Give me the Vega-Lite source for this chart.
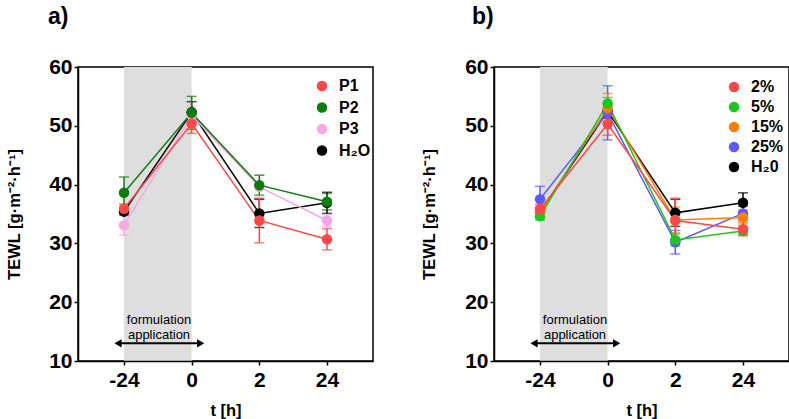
{
  "$schema": "https://vega.github.io/schema/vega-lite/v6.json",
  "background": "white",
  "padding": {"left": 5, "top": 5, "right": 0, "bottom": 0},
  "bounds": "flush",
  "spacing": 121,
  "config": {
    "font": "Liberation Sans",
    "view": {"stroke": "black", "strokeWidth": 1.5},
    "axis": {
      "domainColor": "black", "domainWidth": 1.5,
      "tickColor": "black", "tickWidth": 1.5, "tickSize": 4,
      "labelColor": "black", "labelFont": "Liberation Sans", "labelFontWeight": "bold", "labelFontSize": 21,
      "titleColor": "black", "titleFont": "Liberation Sans", "titleFontWeight": "bold", "titleFontSize": 16.5,
      "grid": false
    },
    "legend": {
      "labelFont": "Liberation Sans", "labelFontWeight": "bold", "labelFontSize": 16, "labelColor": "black",
      "symbolType": "circle", "symbolSize": 110, "symbolStrokeWidth": 0, "symbolOpacity": 1,
      "labelOffset": 9, "title": null
    }
  },
  "datasets": {
    "a": [
      {"series": "H₂O", "t": "-24", "m": 35.4, "e": 0.6},
      {"series": "H₂O", "t": "0", "m": 52.3, "e": 1.8},
      {"series": "H₂O", "t": "2", "m": 35.1, "e": 2.4},
      {"series": "H₂O", "t": "24", "m": 36.9, "e": 1.8},
      {"series": "P3", "t": "-24", "m": 33.1, "e": 1.7},
      {"series": "P3", "t": "0", "m": 51.8, "e": 1.5},
      {"series": "P3", "t": "2", "m": 39.6, "e": 2.0},
      {"series": "P3", "t": "24", "m": 33.9, "e": 1.0},
      {"series": "P2", "t": "-24", "m": 38.6, "e": 2.7},
      {"series": "P2", "t": "0", "m": 52.2, "e": 2.8},
      {"series": "P2", "t": "2", "m": 39.9, "e": 1.7},
      {"series": "P2", "t": "24", "m": 37.1, "e": 1.4},
      {"series": "P1", "t": "-24", "m": 35.9, "e": 0.8},
      {"series": "P1", "t": "0", "m": 50.4, "e": 1.7},
      {"series": "P1", "t": "2", "m": 33.9, "e": 3.8},
      {"series": "P1", "t": "24", "m": 30.7, "e": 1.8}
    ],
    "b": [
      {"series": "H₂0", "t": "-24", "m": 35.3, "e": 0.6},
      {"series": "H₂0", "t": "0", "m": 52.5, "e": 1.2},
      {"series": "H₂0", "t": "2", "m": 35.2, "e": 2.3},
      {"series": "H₂0", "t": "24", "m": 36.9, "e": 1.7},
      {"series": "25%", "t": "-24", "m": 37.5, "e": 2.2},
      {"series": "25%", "t": "0", "m": 52.2, "e": 4.6},
      {"series": "25%", "t": "2", "m": 30.2, "e": 2.0},
      {"series": "25%", "t": "24", "m": 35.1, "e": 1.2},
      {"series": "15%", "t": "-24", "m": 35.2, "e": 0.9},
      {"series": "15%", "t": "0", "m": 53.0, "e": 2.5},
      {"series": "15%", "t": "2", "m": 34.0, "e": 2.2},
      {"series": "15%", "t": "24", "m": 34.4, "e": 1.3},
      {"series": "5%", "t": "-24", "m": 34.6, "e": 0.6},
      {"series": "5%", "t": "0", "m": 53.8, "e": 1.0},
      {"series": "5%", "t": "2", "m": 30.6, "e": 1.0},
      {"series": "5%", "t": "24", "m": 32.1, "e": 0.6},
      {"series": "2%", "t": "-24", "m": 35.8, "e": 0.8},
      {"series": "2%", "t": "0", "m": 50.3, "e": 1.9},
      {"series": "2%", "t": "2", "m": 33.9, "e": 3.8},
      {"series": "2%", "t": "24", "m": 32.4, "e": 1.1}
    ],
    "shade": [{"from": "-24", "to": "0", "top": 60, "bottom": 10}],
    "arrow": [{"from": "-24", "to": "0", "y": 13}],
    "note": [
      {"t": "-24", "y": 16.9, "txt": "formulation"},
      {"t": "-24", "y": 14.5, "txt": "application"}
    ]
  },
  "resolve": {"scale": {"color": "independent", "x": "independent", "y": "independent"}, "legend": {"color": "independent"}},
  "hconcat": [
    {
      "width": 295, "height": 294,
      "title": {"text": "a)", "anchor": "start", "frame": "group", "dx": -30, "offset": 9, "baseline": "alphabetic", "fontSize": 23, "fontWeight": "bold", "font": "Liberation Sans", "color": "black"},
      "encoding": {
        "x": {"field": "t", "type": "ordinal", "sort": ["-24", "0", "2", "24"],
              "scale": {"type": "point", "padding": 0.68, "domain": ["-24", "0", "2", "24"]},
              "axis": {"title": "t [h]", "labelAngle": 0, "labelPadding": 4, "titlePadding": 12}},
        "y": {"type": "quantitative",
              "scale": {"domain": [10, 60], "nice": false, "zero": false},
              "axis": {"title": "TEWL [g·m⁻²·h⁻¹]", "values": [10, 20, 30, 40, 50, 60], "labelPadding": 2, "titlePadding": 26}}
      },
      "layer": [
        {
          "data": {"name": "shade"},
          "mark": {"type": "rect", "color": "#dedede", "clip": false},
          "encoding": {
            "x": {"field": "from"}, "x2": {"field": "to"},
            "y": {"field": "top"}, "y2": {"field": "bottom"}
          }
        },
        {
          "data": {"name": "arrow"},
          "mark": {"type": "rule", "color": "black", "strokeWidth": 2, "xOffset": -5, "x2Offset": 8},
          "encoding": {"x": {"field": "from"}, "x2": {"field": "to"}, "y": {"field": "y"}}
        },
        {
          "data": {"name": "arrow"},
          "mark": {"type": "point", "shape": "triangle-left", "filled": true, "color": "black", "size": 70, "opacity": 1, "xOffset": -6},
          "encoding": {"x": {"field": "from"}, "y": {"field": "y"}}
        },
        {
          "data": {"name": "arrow"},
          "mark": {"type": "point", "shape": "triangle-right", "filled": true, "color": "black", "size": 70, "opacity": 1, "xOffset": 9},
          "encoding": {"x": {"field": "to"}, "y": {"field": "y"}}
        },
        {
          "data": {"name": "note"},
          "mark": {"type": "text", "fontSize": 13, "color": "black", "xOffset": 35, "font": "Liberation Sans"},
          "encoding": {"x": {"field": "t"}, "y": {"field": "y"}, "text": {"field": "txt"}}
        },
        {
          "data": {"name": "a"},
          "mark": {"type": "errorbar", "ticks": {"size": 10, "thickness": 1.5}, "rule": {"strokeWidth": 1.5}},
          "encoding": {
            "y": {"field": "m", "type": "quantitative", "title": "TEWL [g·m⁻²·h⁻¹]"},
            "yError": {"field": "e"},
            "color": {"field": "series", "type": "nominal",
                      "scale": {"domain": ["P1", "P2", "P3", "H₂O"], "range": ["#ff4747", "#0e7d0e", "#f5a8e6", "#000000"]},
                      "legend": {"orient": "none", "legendX": 236, "legendY": 11, "rowPadding": 5.5}}
          }
        },
        {
          "data": {"name": "a"},
          "mark": {"type": "line", "strokeWidth": 1.5},
          "encoding": {
            "y": {"field": "m", "type": "quantitative"},
            "color": {"field": "series", "type": "nominal",
                      "scale": {"domain": ["P1", "P2", "P3", "H₂O"], "range": ["#ff4747", "#0e7d0e", "#f5a8e6", "#000000"]},
                      "legend": {"orient": "none", "legendX": 236, "legendY": 11, "rowPadding": 5.5}}
          }
        },
        {
          "data": {"name": "a"},
          "mark": {"type": "circle", "size": 110, "opacity": 1},
          "encoding": {
            "y": {"field": "m", "type": "quantitative"},
            "color": {"field": "series", "type": "nominal",
                      "scale": {"domain": ["P1", "P2", "P3", "H₂O"], "range": ["#ff4747", "#0e7d0e", "#f5a8e6", "#000000"]},
                      "legend": {"orient": "none", "legendX": 236, "legendY": 11, "rowPadding": 5.5}}
          }
        }
      ]
    },
    {
      "width": 295, "height": 294,
      "title": {"text": "b)", "anchor": "start", "frame": "group", "dx": -22, "offset": 9, "baseline": "alphabetic", "fontSize": 23, "fontWeight": "bold", "font": "Liberation Sans", "color": "black"},
      "encoding": {
        "x": {"field": "t", "type": "ordinal", "sort": ["-24", "0", "2", "24"],
              "scale": {"type": "point", "padding": 0.68, "domain": ["-24", "0", "2", "24"]},
              "axis": {"title": "t [h]", "labelAngle": 0, "labelPadding": 4, "titlePadding": 12}},
        "y": {"type": "quantitative",
              "scale": {"domain": [10, 60], "nice": false, "zero": false},
              "axis": {"title": "TEWL [g·m⁻²·h⁻¹]", "values": [10, 20, 30, 40, 50, 60], "labelPadding": 2, "titlePadding": 27}}
      },
      "layer": [
        {
          "data": {"name": "shade"},
          "mark": {"type": "rect", "color": "#dedede", "clip": false},
          "encoding": {
            "x": {"field": "from"}, "x2": {"field": "to"},
            "y": {"field": "top"}, "y2": {"field": "bottom"}
          }
        },
        {
          "data": {"name": "arrow"},
          "mark": {"type": "rule", "color": "black", "strokeWidth": 2, "xOffset": -5, "x2Offset": 8},
          "encoding": {"x": {"field": "from"}, "x2": {"field": "to"}, "y": {"field": "y"}}
        },
        {
          "data": {"name": "arrow"},
          "mark": {"type": "point", "shape": "triangle-left", "filled": true, "color": "black", "size": 70, "opacity": 1, "xOffset": -6},
          "encoding": {"x": {"field": "from"}, "y": {"field": "y"}}
        },
        {
          "data": {"name": "arrow"},
          "mark": {"type": "point", "shape": "triangle-right", "filled": true, "color": "black", "size": 70, "opacity": 1, "xOffset": 9},
          "encoding": {"x": {"field": "to"}, "y": {"field": "y"}}
        },
        {
          "data": {"name": "note"},
          "mark": {"type": "text", "fontSize": 13, "color": "black", "xOffset": 35, "font": "Liberation Sans"},
          "encoding": {"x": {"field": "t"}, "y": {"field": "y"}, "text": {"field": "txt"}}
        },
        {
          "data": {"name": "b"},
          "mark": {"type": "errorbar", "ticks": {"size": 10, "thickness": 1.5}, "rule": {"strokeWidth": 1.5}},
          "encoding": {
            "y": {"field": "m", "type": "quantitative", "title": "TEWL [g·m⁻²·h⁻¹]"},
            "yError": {"field": "e"},
            "color": {"field": "series", "type": "nominal",
                      "scale": {"domain": ["2%", "5%", "15%", "25%", "H₂0"], "range": ["#ff4747", "#1fc41f", "#ff8000", "#5a5aff", "#000000"]},
                      "legend": {"orient": "none", "legendX": 232, "legendY": 12, "rowPadding": 4}}
          }
        },
        {
          "data": {"name": "b"},
          "mark": {"type": "line", "strokeWidth": 1.5},
          "encoding": {
            "y": {"field": "m", "type": "quantitative"},
            "color": {"field": "series", "type": "nominal",
                      "scale": {"domain": ["2%", "5%", "15%", "25%", "H₂0"], "range": ["#ff4747", "#1fc41f", "#ff8000", "#5a5aff", "#000000"]},
                      "legend": {"orient": "none", "legendX": 232, "legendY": 12, "rowPadding": 4}}
          }
        },
        {
          "data": {"name": "b"},
          "mark": {"type": "circle", "size": 110, "opacity": 1},
          "encoding": {
            "y": {"field": "m", "type": "quantitative"},
            "color": {"field": "series", "type": "nominal",
                      "scale": {"domain": ["2%", "5%", "15%", "25%", "H₂0"], "range": ["#ff4747", "#1fc41f", "#ff8000", "#5a5aff", "#000000"]},
                      "legend": {"orient": "none", "legendX": 232, "legendY": 12, "rowPadding": 4}}
          }
        }
      ]
    }
  ]
}
